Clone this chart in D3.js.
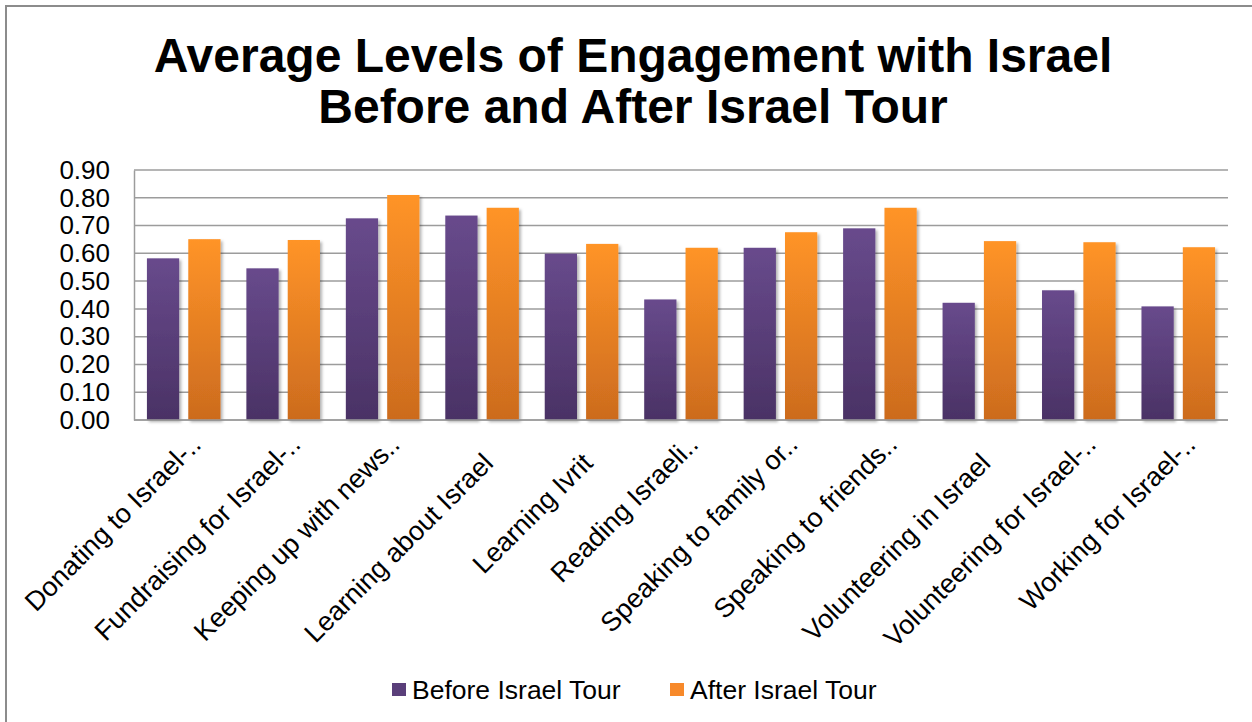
<!DOCTYPE html>
<html>
<head>
<meta charset="utf-8">
<script src="https://cdn.jsdelivr.net/npm/d3@7/dist/d3.min.js"></script>
<style>
  html, body { margin: 0; padding: 0; background: #fff; }
  svg { display: block; }
  text { font-family: "Liberation Sans", Arial, sans-serif; fill: #000; }
</style>
</head>
<body>
<svg id="chart" width="1252" height="722"></svg>
<script>
// Engagement activities (axis categories); a trailing ".." marks a shortened name
const categories = [
  "Donating to Israel-..",
  "Fundraising for Israel-..",
  "Keeping up with news..",
  "Learning about Israel",
  "Learning Ivrit",
  "Reading Israeli..",
  "Speaking to family or..",
  "Speaking to friends..",
  "Volunteering in Israel",
  "Volunteering for Israel-..",
  "Working for Israel-.."
];
// Average engagement before and after the tour
const beforeTour = [0.582, 0.546, 0.726, 0.736, 0.599, 0.434, 0.620, 0.690, 0.422, 0.467, 0.409];
const afterTour  = [0.651, 0.648, 0.810, 0.764, 0.634, 0.620, 0.676, 0.764, 0.644, 0.640, 0.622];
const seriesNames = ["Before Israel Tour", "After Israel Tour"];
const yTicks = [0, 0.1, 0.2, 0.3, 0.4, 0.5, 0.6, 0.7, 0.8, 0.9];
const titleLines = ["Average Levels of Engagement with Israel", "Before and After Israel Tour"];

const svg = d3.select("#chart");
const plot = { left: 134, right: 1228, top: 170, bottom: 420 };

// gradients and bar shadow
const defs = svg.append("defs");
function grad(id, top, bottom) {
  const g = defs.append("linearGradient").attr("id", id)
    .attr("x1", 0).attr("y1", 0).attr("x2", 0).attr("y2", 1);
  g.append("stop").attr("offset", "0%").attr("stop-color", top);
  g.append("stop").attr("offset", "100%").attr("stop-color", bottom);
}
grad("gBefore", "#684a8c", "#4a3265");
grad("gAfter", "#ff9428", "#cc6b1e");
const f = defs.append("filter").attr("id", "shadow")
  .attr("x", "-20%").attr("y", "-10%").attr("width", "150%").attr("height", "130%");
f.append("feDropShadow").attr("dx", 2).attr("dy", 2).attr("stdDeviation", 1.6)
  .attr("flood-color", "#000").attr("flood-opacity", 0.3);

// outer chart frame
svg.append("rect").attr("x", 6).attr("y", 6).attr("width", 1260).attr("height", 740)
  .attr("fill", "none").attr("stroke", "#8c8c8c").attr("stroke-width", 2);

// title
svg.append("text").attr("text-anchor", "middle")
  .style("font-size", "48px").style("font-weight", "bold")
  .selectAll("tspan").data(titleLines).join("tspan")
  .attr("x", 633).attr("y", (d, i) => i === 0 ? 72 : 123).text(d => d);

// scales
const y = d3.scaleLinear().domain([0, 0.9]).range([plot.bottom, plot.top]);
const x0 = d3.scaleBand().domain(categories).range([plot.left, plot.right])
  .paddingInner(0.26).paddingOuter(0.13);
const x1 = d3.scaleBand().domain(seriesNames).range([0, x0.bandwidth()]).paddingInner(0.22);

// gridlines
svg.append("g").selectAll("line").data(yTicks).join("line")
  .attr("x1", plot.left).attr("x2", plot.right)
  .attr("y1", d => y(d)).attr("y2", d => y(d))
  .attr("stroke", "#9c9c9c").attr("stroke-width", 1.5);

// y axis
const yAxis = svg.append("g").attr("transform", `translate(${plot.left},0)`)
  .call(d3.axisLeft(y).tickValues(yTicks).tickFormat(d3.format(".2f")).tickSize(0).tickPadding(24));
yAxis.select(".domain").attr("stroke", "#9c9c9c").attr("stroke-width", 1.5);
yAxis.selectAll("text").style("font-size", "26px")
  .style("font-family", "'Liberation Sans', Arial, sans-serif").attr("fill", "#000");

// bars
const rows = categories.map((c, i) => ({ cat: c, vals: [beforeTour[i], afterTour[i]] }));
const groups = svg.append("g").selectAll("g").data(rows).join("g")
  .attr("transform", d => `translate(${x0(d.cat)},0)`);
groups.selectAll("rect")
  .data(d => d.vals.map((v, k) => ({ s: seriesNames[k], v, k })))
  .join("rect")
  .attr("x", d => x1(d.s)).attr("width", x1.bandwidth())
  .attr("y", d => y(d.v)).attr("height", d => y(0) - y(d.v))
  .attr("fill", d => d.k === 0 ? "url(#gBefore)" : "url(#gAfter)")
  .attr("filter", "url(#shadow)");

// x axis line
svg.append("line").attr("x1", plot.left).attr("x2", plot.right)
  .attr("y1", plot.bottom).attr("y2", plot.bottom)
  .attr("stroke", "#9c9c9c").attr("stroke-width", 1.5);

// rotated category labels: the name ends at its category, trailing dots run past it
const labelSize = 27;
const probe = svg.append("text").style("font-size", labelSize + "px").text("..");
const dotsWidth = probe.node().getComputedTextLength();
probe.remove();
svg.append("g").selectAll("text").data(categories).join("text")
  .attr("text-anchor", "end").attr("dy", "0.35em")
  .style("font-size", labelSize + "px")
  .attr("x", d => d.endsWith("..") ? dotsWidth : 0)
  .attr("transform", d => {
    const cut = d.endsWith("..");
    const ax = x0(d) + x0.bandwidth() / 2 + (cut ? 1.5 : 6);
    const ay = cut ? 450 : 458;
    return `translate(${ax},${ay}) rotate(-45)`;
  })
  .text(d => d);

// legend
const legend = [
  { name: seriesNames[0], color: "#5a3f7a", sx: 392, tx: 412 },
  { name: seriesNames[1], color: "#f7892a", sx: 670, tx: 690 }
];
const lg = svg.append("g").selectAll("g").data(legend).join("g");
lg.append("rect").attr("x", d => d.sx).attr("y", 683).attr("width", 14).attr("height", 13)
  .attr("fill", d => d.color);
lg.append("text").attr("x", d => d.tx).attr("y", 699).style("font-size", "26.5px").text(d => d.name);
</script>
</body>
</html>
